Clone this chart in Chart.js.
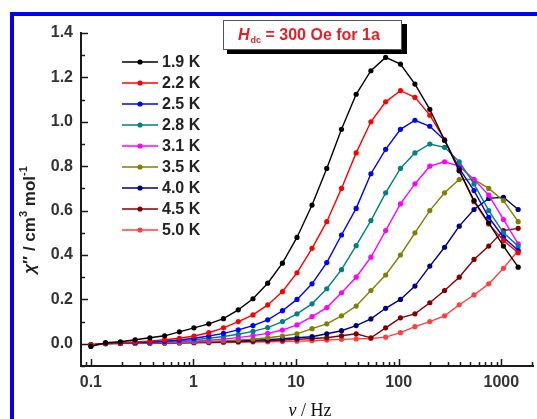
<!DOCTYPE html>
<html><head><meta charset="utf-8">
<script src="https://cdn.jsdelivr.net/npm/chart.js@4/dist/chart.umd.min.js"></script>
<style>html,body{margin:0;padding:0;background:#fff;overflow:hidden}#wrap{width:537px;height:419px;position:relative}</style>
</head><body><div id="wrap"><canvas id="c" width="537" height="419"></canvas></div>
<script>
// ---- data ----
const freqHz = [0.1, 0.139, 0.194, 0.27, 0.376, 0.523, 0.728, 1.01, 1.41, 1.96, 2.73, 3.8, 5.29, 7.36, 10.2, 14.3, 19.9, 27.7, 38.5, 53.6, 74.6, 104, 144, 201, 280, 389, 542, 754, 1050, 1460];
const seriesLabels = ['1.9 K', '2.2 K', '2.5 K', '2.8 K', '3.1 K', '3.5 K', '4.0 K', '4.5 K', '5.0 K'];
const chi_1_9K = [-0.012, 0.005, 0.009, 0.018, 0.027, 0.036, 0.054, 0.072, 0.09, 0.113, 0.153, 0.203, 0.273, 0.363, 0.479, 0.625, 0.79, 0.966, 1.124, 1.23, 1.29, 1.26, 1.17, 1.056, 0.917, 0.78, 0.645, 0.545, 0.44, 0.345];
const chi_2_2K = [-0.005, 0.003, 0.005, 0.008, 0.012, 0.018, 0.025, 0.035, 0.05, 0.072, 0.10, 0.13, 0.175, 0.235, 0.32, 0.43, 0.55, 0.70, 0.86, 1.0, 1.09, 1.14, 1.11, 1.03, 0.92, 0.78, 0.64, 0.54, 0.465, 0.41];
const chi_2_5K = [-0.005, 0.002, 0.004, 0.006, 0.008, 0.012, 0.017, 0.025, 0.035, 0.047, 0.063, 0.082, 0.108, 0.149, 0.20, 0.27, 0.366, 0.49, 0.61, 0.766, 0.876, 0.966, 1.007, 0.98, 0.917, 0.79, 0.69, 0.57, 0.48, 0.42];
const chi_2_8K = [-0.005, 0.002, 0.003, 0.005, 0.007, 0.009, 0.013, 0.018, 0.025, 0.033, 0.043, 0.056, 0.073, 0.10, 0.135, 0.18, 0.248, 0.334, 0.442, 0.555, 0.68, 0.79, 0.86, 0.90, 0.885, 0.82, 0.72, 0.60, 0.50, 0.44];
const chi_3_1K = [-0.005, 0.002, 0.002, 0.004, 0.005, 0.007, 0.009, 0.012, 0.016, 0.021, 0.028, 0.037, 0.047, 0.062, 0.085, 0.122, 0.163, 0.23, 0.30, 0.39, 0.51, 0.63, 0.72, 0.80, 0.82, 0.80, 0.74, 0.67, 0.56, 0.45];
const chi_3_5K = [-0.005, 0.001, 0.002, 0.003, 0.004, 0.005, 0.006, 0.008, 0.01, 0.013, 0.017, 0.021, 0.027, 0.035, 0.045, 0.068, 0.09, 0.126, 0.17, 0.24, 0.31, 0.40, 0.50, 0.60, 0.68, 0.74, 0.74, 0.70, 0.645, 0.55];
const chi_4_0K = [-0.005, 0.001, 0.002, 0.003, 0.004, 0.005, 0.006, 0.007, 0.009, 0.011, 0.013, 0.016, 0.019, 0.023, 0.027, 0.032, 0.045, 0.059, 0.082, 0.112, 0.16, 0.20, 0.26, 0.35, 0.435, 0.53, 0.605, 0.655, 0.66, 0.605];
const chi_4_5K = [-0.005, 0.001, 0.002, 0.003, 0.004, 0.004, 0.005, 0.006, 0.007, 0.008, 0.01, 0.012, 0.014, 0.017, 0.02, 0.024, 0.027, 0.036, 0.045, 0.027, 0.072, 0.117, 0.135, 0.185, 0.24, 0.30, 0.38, 0.44, 0.51, 0.52];
const chi_5_0K = [-0.008, 0.0, 0.001, 0.002, 0.002, 0.003, 0.003, 0.004, 0.005, 0.006, 0.007, 0.008, 0.009, 0.01, 0.012, 0.014, 0.017, 0.02, 0.022, 0.024, 0.03, 0.05, 0.077, 0.10, 0.126, 0.176, 0.22, 0.27, 0.34, 0.42];
const seriesValues = [chi_1_9K, chi_2_2K, chi_2_5K, chi_2_8K, chi_3_1K, chi_3_5K, chi_4_0K, chi_4_5K, chi_5_0K];
const seriesColors = ['#000000', '#ff0000', '#0000ff', '#008080', '#ff00ff', '#808000', '#000080', '#800000', '#ff3f3f'];
const yTickValues = [0, 0.2, 0.4, 0.6, 0.8, 1.0, 1.2, 1.4];
const yTickLabels = ['0.0', '0.2', '0.4', '0.6', '0.8', '1.0', '1.2', '1.4'];
const xTickValues = [0.1, 1, 10, 100, 1000];
const xTickLabels = ['0.1', '1', '10', '100', '1000'];
const boxTitle = {main: 'H', sub: 'dc', rest: ' = 300 Oe for 1a'};

// ---- chart ----
const SANS = '"Liberation Sans", Arial, sans-serif';
const datasets = seriesValues.map((vals, i) => ({
  label: seriesLabels[i],
  data: freqHz.map((f, j) => ({x: f, y: vals[j]})),
  borderColor: seriesColors[i],
  backgroundColor: seriesColors[i],
  pointBackgroundColor: seriesColors[i],
  pointBorderColor: seriesColors[i],
  pointRadius: 2.6,
  pointBorderWidth: 0,
  borderWidth: 1.4,
  tension: 0
}));

const decor = {
  id: 'decor',
  beforeDraw(chart) {
    const c = chart.ctx;
    c.save();
    c.fillStyle = '#fff';
    c.fillRect(0, 0, chart.width, chart.height);
    c.fillStyle = '#0000ff';
    c.fillRect(10, 12, 4, chart.height - 12);
    c.fillRect(10, 12, chart.width - 10, 4);
    c.restore();
  },
  afterDraw(chart) {
    const c = chart.ctx;
    const xs = chart.scales.x, ys = chart.scales.y;
    const area = chart.chartArea;
    c.save();
    c.strokeStyle = '#1a1a1a';
    c.lineWidth = 1.5;
    // y inward ticks
    c.beginPath();
    for (let v = -0.1; v <= 1.41; v += 0.1) {
      const yy = Math.round(ys.getPixelForValue(v)) + 0.5;
      const major = Math.abs(Math.round(v * 10) % 2) === 0;
      c.moveTo(area.left, yy);
      c.lineTo(area.left + (major ? 7 : 4), yy);
    }
    // x inward ticks
    for (let d = -2; d <= 3; d++) {
      for (let k = 1; k <= 9; k++) {
        const v = k * Math.pow(10, d);
        if (v < xs.min || v > xs.max) continue;
        const xx = Math.round(xs.getPixelForValue(v)) + 0.5;
        c.moveTo(xx, area.bottom);
        c.lineTo(xx, area.bottom - (k === 1 ? 7 : 4));
      }
    }
    c.stroke();

    // legend
    const lx0 = 122, lx1 = 158, ly0 = 62, dy = 21;
    chart.data.datasets.forEach((ds, i) => {
      const y = ly0 + i * dy;
      c.strokeStyle = ds.borderColor;
      c.lineWidth = 1.6;
      c.beginPath(); c.moveTo(lx0, y); c.lineTo(lx1, y); c.stroke();
      c.fillStyle = ds.borderColor;
      c.beginPath(); c.arc((lx0 + lx1) / 2, y, 2.6, 0, Math.PI * 2); c.fill();
      c.fillStyle = '#222';
      c.font = 'bold 16px ' + SANS;
      c.textBaseline = 'middle';
      c.textAlign = 'left';
      c.fillText(ds.label, 162, y + 1);
    });

    // title box with shadow
    c.fillStyle = '#000';
    c.fillRect(227, 24, 180, 30);
    c.fillStyle = '#fff';
    c.fillRect(223, 20, 179, 30);
    c.strokeStyle = '#555';
    c.lineWidth = 1;
    c.strokeRect(223.5, 20.5, 178, 29);
    c.fillStyle = '#e41e26';
    c.textBaseline = 'alphabetic';
    c.font = 'italic bold 16px ' + SANS;
    c.fillText(boxTitle.main, 238, 40);
    let tx = 238 + c.measureText(boxTitle.main).width;
    c.font = 'bold 9px ' + SANS;
    c.fillText(boxTitle.sub, tx + 1, 43);
    tx += 1 + c.measureText(boxTitle.sub).width;
    c.font = 'bold 16px ' + SANS;
    c.fillText(boxTitle.rest, tx, 40);

    // y title (rotated) with superscripts
    const parts = [
      {t: 'χ', f: 'italic bold 17px ' + SANS, o: 0},
      {t: '″ / cm', f: 'bold 17px ' + SANS, o: 0},
      {t: '3', f: 'bold 11px ' + SANS, o: -8},
      {t: ' mol', f: 'bold 17px ' + SANS, o: 0},
      {t: '-1', f: 'bold 11px ' + SANS, o: -8}
    ];
    let w = 0;
    parts.forEach(p => { c.font = p.f; p.w = c.measureText(p.t).width; w += p.w; });
    c.translate(35, 220);
    c.rotate(-Math.PI / 2);
    c.fillStyle = '#222';
    let px = -w / 2;
    parts.forEach(p => { c.font = p.f; c.fillText(p.t, px, p.o); px += p.w; });
    c.setTransform(1, 0, 0, 1, 0, 0);

    // x title
    const xp = [
      {t: 'ν', f: 'italic 18px "Liberation Serif", "Times New Roman", serif'},
      {t: ' / Hz', f: '18px "Liberation Serif", "Times New Roman", serif'}
    ];
    let xw = 0;
    xp.forEach(p => { c.font = p.f; p.w = c.measureText(p.t).width; xw += p.w; });
    let xx = 310 - xw / 2;
    c.fillStyle = '#111';
    xp.forEach(p => { c.font = p.f; c.fillText(p.t, xx, 416); xx += p.w; });
    c.restore();
  }
};

new Chart(document.getElementById('c'), {
  type: 'line',
  data: {datasets},
  options: {
    responsive: false,
    animation: false,
    devicePixelRatio: 1,
    layout: {padding: {top: 33, right: 0, left: 0, bottom: 0}},
    plugins: {legend: {display: false}, tooltip: {enabled: false}, title: {display: false}},
    scales: {
      x: {
        type: 'logarithmic',
        min: 0.0801,
        max: 2037,
        grid: {display: false, drawTicks: false},
        border: {display: true, color: '#1a1a1a', width: 2},
        afterBuildTicks: s => { s.ticks = xTickValues.map(v => ({value: v})); },
        afterFit: s => { s.height = 53; },
        ticks: {
          autoSkip: false, maxRotation: 0, padding: 7, color: '#333',
          font: {family: SANS, size: 16, weight: 'bold'},
          callback: (v) => { const i = xTickValues.indexOf(v); return i >= 0 ? xTickLabels[i] : ''; }
        }
      },
      y: {
        type: 'linear',
        min: -0.1,
        max: 1.4,
        grid: {display: false, drawTicks: false},
        border: {display: true, color: '#1a1a1a', width: 2},
        afterBuildTicks: s => { s.ticks = yTickValues.map(v => ({value: v})); },
        afterFit: s => { s.width = 81; },
        ticks: {
          autoSkip: false, padding: 8, color: '#333',
          font: {family: SANS, size: 16, weight: 'bold'},
          callback: (v) => { const i = yTickValues.findIndex(t => Math.abs(t - v) < 1e-6); return i >= 0 ? yTickLabels[i] : ''; }
        }
      }
    }
  },
  plugins: [decor]
});
</script>
</body></html>
